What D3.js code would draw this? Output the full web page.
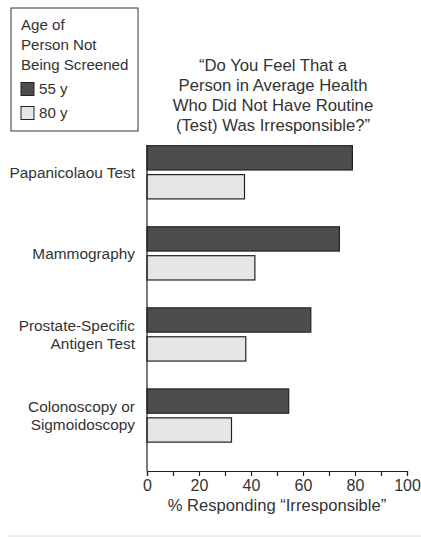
<!DOCTYPE html>
<html>
<head>
<meta charset="utf-8">
<script src="https://cdn.jsdelivr.net/npm/d3@7"></script>
<style>
  body { margin: 0; background: #fff; }
  text { font-family: "Liberation Sans", Arial, sans-serif; fill: #333; }
</style>
</head>
<body>
<div id="chart"></div>
<script>
// data
let tests = ["Papanicolaou Test", "Mammography", "Prostate-Specific Antigen Test", "Colonoscopy or Sigmoidoscopy"];
let testLines = [["Papanicolaou Test"], ["Mammography"], ["Prostate-Specific", "Antigen Test"], ["Colonoscopy or", "Sigmoidoscopy"]];
let ages = ["55 y", "80 y"];
let pct55 = [79, 74, 63, 54.5];
let pct80 = [37.5, 41.5, 38, 32.5];
let xTicks = [0, 20, 40, 60, 80, 100];
let titleLines = ["\u201CDo You Feel That a", "Person in Average Health", "Who Did Not Have Routine", "(Test) Was Irresponsible?\u201D"];
let legendTitle = ["Age of", "Person Not", "Being Screened"];

let colors = {"55 y": "#4d4d4d", "80 y": "#e6e6e6"};

let W = 421, H = 537;
let svg = d3.select("#chart").append("svg")
	.attr("width", W)
	.attr("height", H);

let rows = [];
tests.forEach((t, i) => {
	rows.push({test: t, age: "55 y", value: pct55[i]});
	rows.push({test: t, age: "80 y", value: pct80[i]});
});

// scales
let x = d3.scaleLinear().domain([0, 100]).range([147, 407]);
let y = d3.scaleBand().domain(tests).range([131.7, 456]).padding(0);
let ySub = d3.scaleBand().domain(ages).range([14, 67.2]).paddingInner(0.16);

// bars
svg.append("g").selectAll("rect")
	.data(rows)
	.join("rect")
	.attr("x", x(0))
	.attr("y", d => y(d.test) + ySub(d.age))
	.attr("width", d => x(d.value) - x(0))
	.attr("height", ySub.bandwidth())
	.attr("fill", d => colors[d.age])
	.attr("stroke", "#222")
	.attr("stroke-width", 1.2);

// x axis
let xAxis = d3.axisBottom(x)
	.tickValues(d3.range(0, 101, 10))
	.tickSize(5)
	.tickFormat(d => xTicks.includes(d) ? d : "");

let gx = svg.append("g")
	.attr("transform", "translate(0,471)")
	.call(xAxis);
gx.select(".domain").attr("stroke", "#222").attr("stroke-width", 1.2);
gx.selectAll(".tick line").attr("stroke", "#222").attr("stroke-width", 1.2);
gx.selectAll(".tick text")
	.attr("dy", "0.71em")
	.attr("y", 9)
	.style("font-size", "16px")
	.style("font-family", "Liberation Sans, Arial, sans-serif")
	.attr("fill", "#333");

// y axis line
svg.append("line")
	.attr("x1", x(0)).attr("x2", x(0))
	.attr("y1", 145).attr("y2", 471)
	.attr("stroke", "#222")
	.attr("stroke-width", 1.2);

// category labels
let cats = svg.append("g").selectAll("text")
	.data(tests)
	.join("text")
	.attr("text-anchor", "end")
	.style("font-size", "15.4px");
cats.each(function(d, i) {
	let lines = testLines[i];
	let cy = y(d) + y.bandwidth() / 2;
	d3.select(this).selectAll("tspan")
		.data(lines)
		.join("tspan")
		.attr("x", 135)
		.attr("y", (l, j) => cy + (j - (lines.length - 1) / 2) * 18)
		.attr("dy", "0.35em")
		.text(l => l);
});

// x title
svg.append("text")
	.attr("x", 277)
	.attr("y", 505)
	.attr("dy", "0.35em")
	.attr("text-anchor", "middle")
	.style("font-size", "16.6px")
	.text("% Responding \u201CIrresponsible\u201D");

// chart title
svg.append("g").selectAll("text")
	.data(titleLines)
	.join("text")
	.attr("x", 273)
	.attr("y", (d, i) => 65 + i * 20)
	.attr("dy", "0.35em")
	.attr("text-anchor", "middle")
	.style("font-size", "16.7px")
	.text(d => d);

// legend
let leg = svg.append("g");
leg.append("rect")
	.attr("x", 11).attr("y", 8)
	.attr("width", 127).attr("height", 123)
	.attr("fill", "none")
	.attr("stroke", "#333")
	.attr("stroke-width", 1);
leg.selectAll("text.lt")
	.data(legendTitle)
	.join("text")
	.attr("class", "lt")
	.attr("x", 21)
	.attr("y", (d, i) => 25 + i * 20)
	.attr("dy", "0.35em")
	.style("font-size", "15.1px")
	.text(d => d);
let items = leg.selectAll("g.item")
	.data(ages)
	.join("g")
	.attr("class", "item")
	.attr("transform", (d, i) => "translate(21," + (89 + i * 24) + ")");
items.append("rect")
	.attr("x", 0).attr("y", -6.5)
	.attr("width", 13).attr("height", 13)
	.attr("fill", d => colors[d])
	.attr("stroke", "#222")
	.attr("stroke-width", 1);
items.append("text")
	.attr("x", 18)
	.attr("dy", "0.35em")
	.style("font-size", "15.1px")
	.text(d => d);

// bottom rule
svg.append("line")
	.attr("x1", 8).attr("x2", W)
	.attr("y1", 536).attr("y2", 536)
	.attr("stroke", "#ddd")
	.attr("stroke-width", 1);
</script>
</body>
</html>
